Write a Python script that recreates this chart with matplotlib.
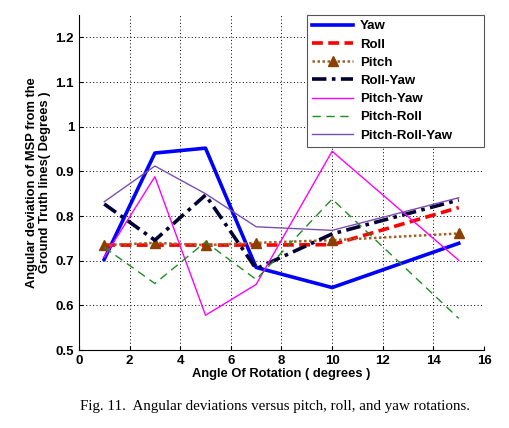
import numpy as np
import matplotlib
matplotlib.use("Agg")
import matplotlib.pyplot as plt

# angle of rotation (degrees)
angles = [1, 3, 5, 7, 10, 15]

yaw = [0.703, 0.941, 0.952, 0.685, 0.640, 0.739]
roll = [0.735, 0.735, 0.735, 0.735, 0.736, 0.819]
pitch = [0.735, 0.740, 0.735, 0.740, 0.746, 0.761]
roll_yaw = [0.827, 0.746, 0.847, 0.682, 0.760, 0.836]
pitch_yaw = [0.708, 0.888, 0.578, 0.647, 0.945, 0.701]
pitch_roll = [0.730, 0.649, 0.742, 0.658, 0.838, 0.571]
pitch_roll_yaw = [0.832, 0.912, 0.850, 0.776, 0.768, 0.841]

xticks = list(range(0, 17, 2))
yticks = [0.5, 0.6, 0.7, 0.8, 0.9, 1.0, 1.1, 1.2]
ytick_labels = ["0.5", "0.6", "0.7", "0.8", "0.9", "1", "1.1", "1.2"]

plt.rcParams['font.family'] = ['Liberation Sans', 'DejaVu Sans']

fig = plt.figure(figsize=(5.09, 4.28), dpi=100)
ax = fig.add_axes([0.155, 0.182, 0.796, 0.783])

ax.plot(angles, yaw, color="#0000ff", linewidth=2.6, label="Yaw")
ax.plot(angles, roll, color="#ff0000", linewidth=2.6, linestyle=(0, (3, 1.5)), label="Roll")
ax.plot(angles, pitch, color="#a0602a", linewidth=1.8, linestyle=(0, (1, 1)),
        marker="^", markersize=7, markerfacecolor="#8b4000", markeredgecolor="#8b4000",
        label="Pitch")
ax.plot(angles, roll_yaw, color="#000033", linewidth=2.6, linestyle=(0, (4, 1.5, 1, 1.5)),
        label="Roll-Yaw")
ax.plot(angles, pitch_yaw, color="#ff00ff", linewidth=1.0, label="Pitch-Yaw")
ax.plot(angles, pitch_roll, color="#228b22", linewidth=1.0, linestyle=(0, (6, 4)),
        label="Pitch-Roll")
ax.plot(angles, pitch_roll_yaw, color="#7a4fb0", linewidth=1.0, label="Pitch-Roll-Yaw")

ax.set_xlim(0, 16)
ax.set_ylim(0.5, 1.25)
ax.set_xticks(xticks)
ax.set_yticks(yticks)
ax.set_yticklabels(ytick_labels)
ax.tick_params(direction="in", length=3, labelsize=9.5)
for lab in ax.get_xticklabels() + ax.get_yticklabels():
    lab.set_fontweight("bold")

ax.grid(True, color="black", linestyle=(0, (1, 2.5)), linewidth=0.7)
ax.spines['top'].set_visible(False)
ax.spines['right'].set_visible(False)

ax.set_xlabel("Angle Of Rotation ( degrees )", fontsize=9.3, fontweight="bold", labelpad=1)
ax.set_ylabel("Angular deviation of MSP from the\nGround Truth lines( Degrees )",
              fontsize=9.3, fontweight="bold", labelpad=3, linespacing=1.1)

# legend box stretched to the same width as in the original
leg = ax.legend(loc="upper left", bbox_to_anchor=(0.563, 0.0, 0.437, 1.0), mode="expand",
                borderaxespad=0, fancybox=False, edgecolor="#555555", framealpha=1,
                prop={"weight": "bold", "size": 9.5}, handlelength=3.1,
                labelspacing=0.45, handletextpad=0.5, borderpad=0.4)
leg.get_frame().set_linewidth(0.8)

fig.text(0.54, 0.05, "Fig. 11.  Angular deviations versus pitch, roll, and yaw rotations.",
         ha="center", va="center", fontsize=10.8, family="Liberation Serif")

fig.savefig("out.png", dpi=100)
